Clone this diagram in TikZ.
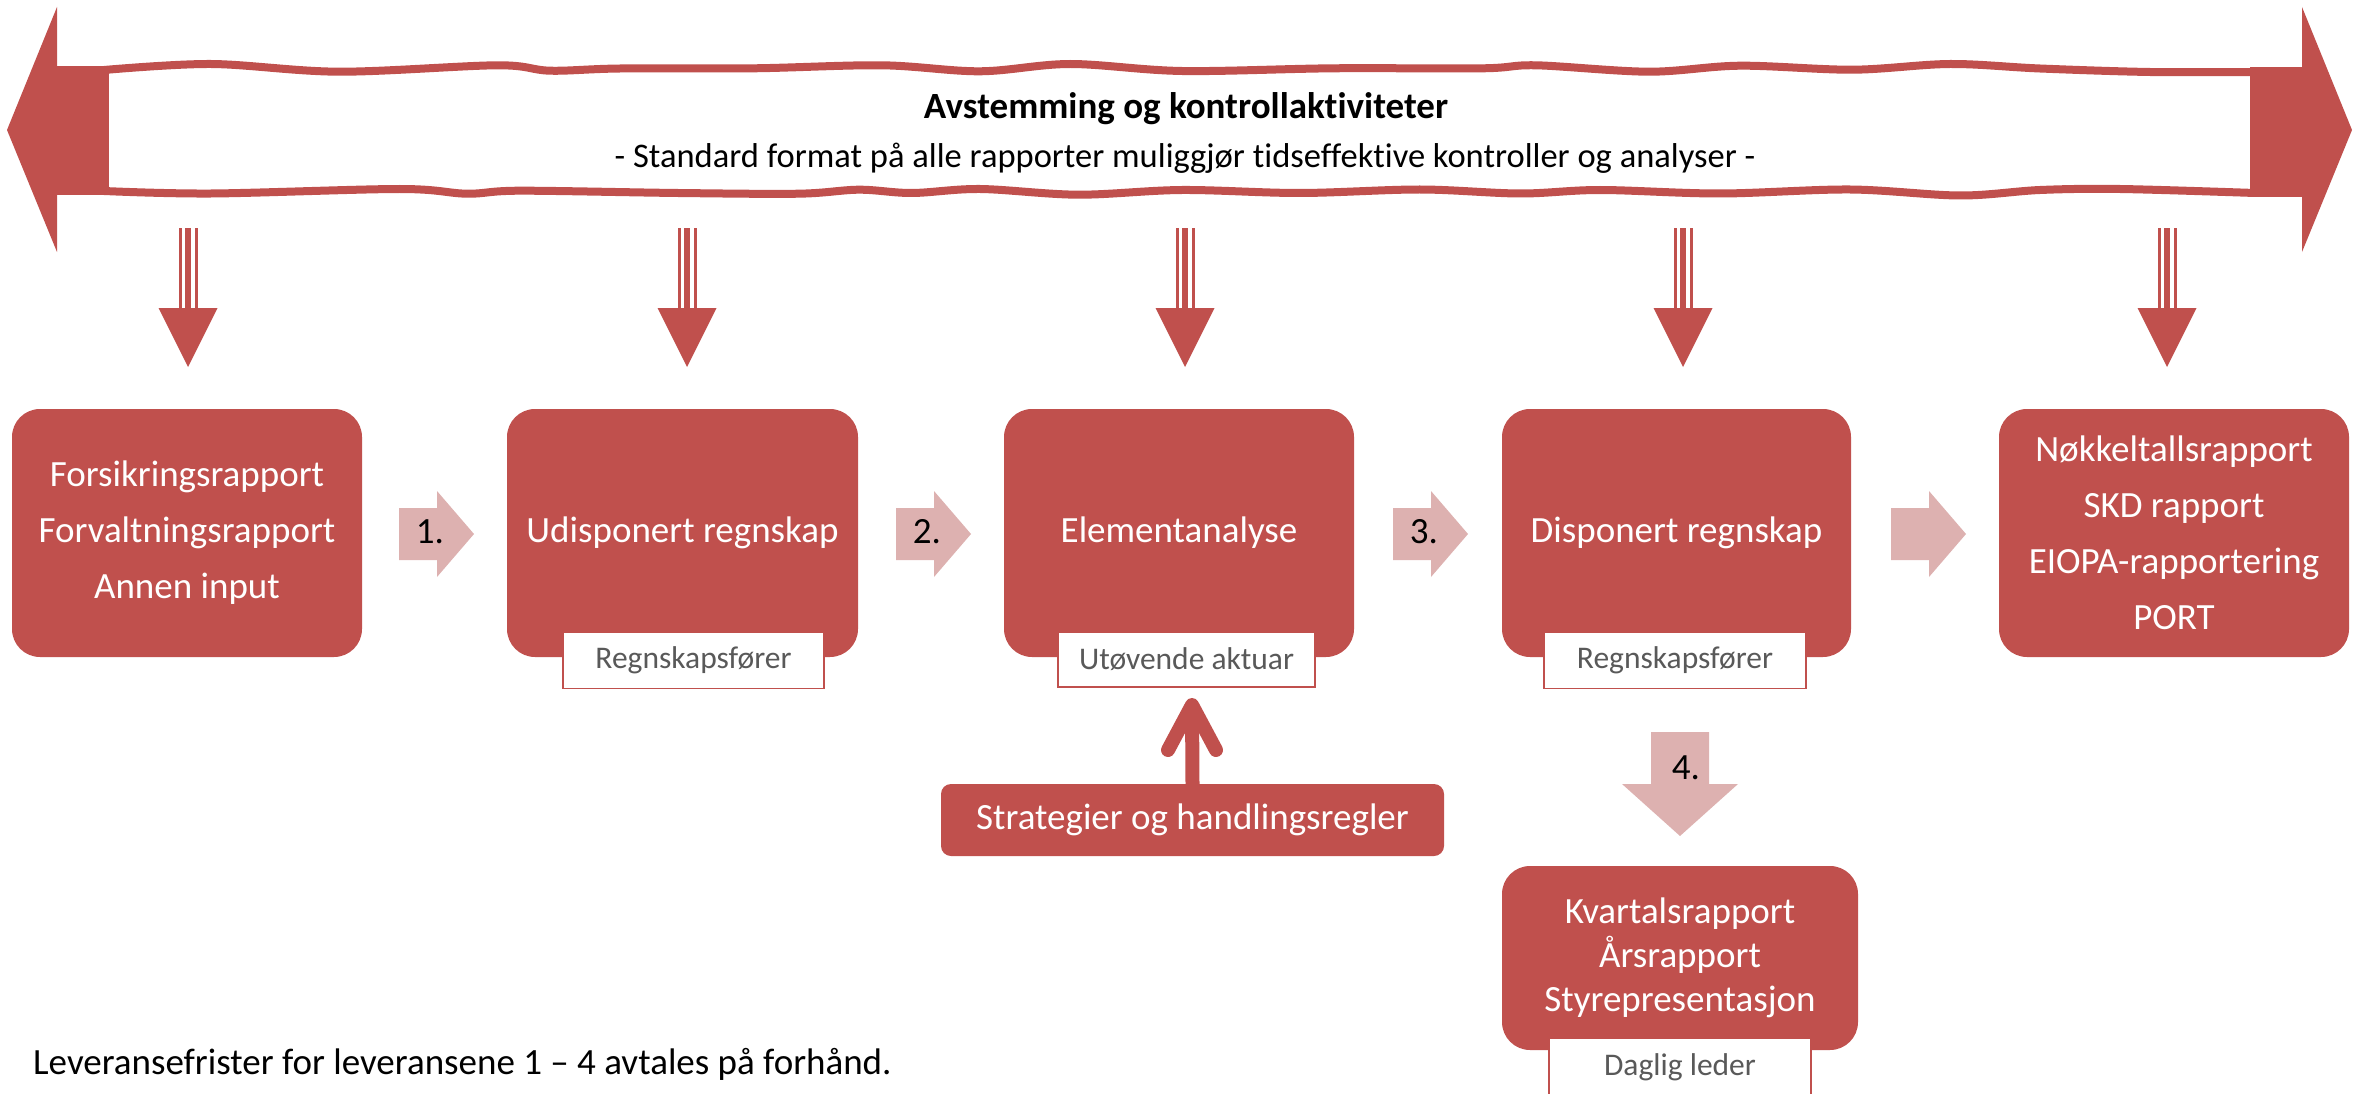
\documentclass[tikz,border=0pt]{standalone}
\usepackage{fontspec}
\setmainfont{Carlito}[Ligatures={TeX,NoCommon}]
\usetikzlibrary{calc}
\definecolor{redc}{HTML}{C0504D}
\definecolor{pinkc}{HTML}{DDB1B0}
\definecolor{graytxt}{HTML}{595959}
\begin{document}
\begin{tikzpicture}[x=1pt,y=-1pt,
  mainbox/.style={fill=redc, rounded corners=28pt, text=white, align=center,
    font=\fontsize{37}{56}\selectfont, inner sep=0pt},
  subbox/.style={draw=redc, line width=1.5pt, fill=white, text=graytxt,
    font=\fontsize{31.5}{37}\selectfont, inner sep=0pt, minimum height=56pt},
  numlbl/.style={font=\fontsize{37}{44}\selectfont, text=black, inner sep=0pt},
  band/.style={draw=redc, line width=8pt},
  stripedown/.pic={
    \fill[redc] (-9.5,0) rectangle (-6.5,80);
    \fill[redc] (-3,0) rectangle (3,80);
    \fill[redc] (6.5,0) rectangle (9.5,80);
    \fill[redc] (-29.5,80) -- (29.5,80) -- (0,139) -- cycle;},
  pinkright/.pic={
    \fill[pinkc] (0,-26) -- (38,-26) -- (38,-43) -- (75,0) -- (38,43) -- (38,26) -- (0,26) -- cycle;},
  pinkdown/.pic={
    \fill[pinkc] (-29,0) -- (29,0) -- (29,52) -- (58,52) -- (0,104) -- (-58,52) -- (-29,52) -- cycle;}
]
\useasboundingbox (0,0) rectangle (2364,1094);

% ---- banner double arrow ----
\fill[redc] (7,130) -- (57,7) -- (57,252) -- cycle;
\fill[redc] (2352,130) -- (2302,7) -- (2302,252) -- cycle;
\fill[redc] (56,66) rectangle (109,195);
\fill[redc] (2250,67) rectangle (2303,197);
\draw[band] plot[smooth, tension=0.55] coordinates {(104,70) (211,64) (339,71.7) (497,65.3) (550,70.7) (620,68.5) (754,68.3) (882,65.3) (980,71.3) (1070,64) (1182,71) (1333,68.3) (1483,68.3) (1536,65.3) (1649,71.7) (1740,65.7) (1853,69.7) (1950,64) (2040,68.5) (2150,72) (2255,72)};
\draw[band] plot[smooth, tension=0.55] coordinates {(104,191) (211,193.5) (400,189) (467,193.7) (520,190.7) (678,193) (799,193.7) (859,189.7) (912,193) (980,189) (1078,194.7) (1182,190) (1300,193) (1420,189.5) (1520,193.5) (1600,190) (1720,193.5) (1850,189.5) (1960,195.5) (2040,190) (2120,189) (2255,193)};
\node[font=\fontsize{37}{44}\selectfont\bfseries, inner sep=0pt] (title) at (1186,109) {Avstemming og kontrollaktiviteter};
\node[font=\fontsize{34.5}{40}\selectfont, inner sep=0pt] (subtitle) at (1185,158) {- Standard format på alle rapporter muliggjør tidseffektive kontroller og analyser -};

% ---- striped down arrows ----
\pic at (188,228) {stripedown};
\pic at (687,228) {stripedown};
\pic at (1185,228) {stripedown};
\pic at (1683,228) {stripedown};
\pic at (2167,228) {stripedown};

% ---- main boxes ----
\node[mainbox, minimum width=350pt, minimum height=248pt] (b1) at (187,533)
  {Forsikringsrapport\\Forvaltningsrapport\\Annen input};
\node[mainbox, minimum width=351pt, minimum height=248pt] (b2) at (682.5,533) {Udisponert regnskap};
\node[mainbox, minimum width=350pt, minimum height=248pt] (b3) at (1179,533) {Elementanalyse};
\node[mainbox, minimum width=349pt, minimum height=248pt] (b4) at (1676.5,533) {Disponert regnskap};
\node[mainbox, minimum width=350pt, minimum height=248pt] (b5) at (2174,533)
  {Nøkkeltallsrapport\\SKD rapport\\EIOPA-rapportering\\PORT};
\node[mainbox, font=\fontsize{37}{44}\selectfont, minimum width=356pt, minimum height=184pt] (b6) at (1680,958)
  {Kvartalsrapport\\Årsrapport\\Styrepresentasjon};

% ---- role sub-boxes ----
\node[subbox, minimum width=261pt] (r2) at (693.5,660.5) {Regnskapsfører};
\node[subbox, minimum width=257pt, minimum height=55pt] (r3) at (1186.5,659.5) {Utøvende aktuar};
\node[subbox, minimum width=262pt] (r4) at (1675,660.5) {Regnskapsfører};
\node[subbox, minimum width=262pt, minimum height=62pt, text depth=0pt] (r6) at (1680,1069) {};
\node[text=graytxt, font=\fontsize{31.5}{37}\selectfont, inner sep=0pt] (r6t) at (1680,1067) {Daglig leder};

% ---- pink flow arrows ----
\pic at (399,534) {pinkright};
\pic at (896,534) {pinkright};
\pic at (1393,534) {pinkright};
\pic at (1891,534) {pinkright};
\node[numlbl] (n1) at (430,532) {1.};
\node[numlbl] (n2) at (927,532) {2.};
\node[numlbl] (n3) at (1424,532) {3.};
\pic at (1680,732) {pinkdown};
\node[numlbl] (n4) at (1686,768) {4.};

% ---- strategier ----
\node[fill=redc, rounded corners=10pt, text=white, font=\fontsize{37}{44}\selectfont,
  minimum width=503pt, minimum height=72pt, inner sep=0pt] (strat) at (1192.5,820) {Strategier og handlingsregler};
\coordinate (uptip) at (1192,705);
\draw[redc, line width=14pt] (strat.north) -- (uptip);
\draw[redc, line width=14pt, line cap=round, line join=round]
  ($(uptip)+(-24,45)$) -- (uptip) -- ($(uptip)+(24,45)$);

% ---- note ----
\node[anchor=west, font=\fontsize{37}{44}\selectfont, inner sep=0pt] (note) at (33,1064)
  {Leveransefrister for leveransene 1 – 4 avtales på forhånd.};
\end{tikzpicture}
\end{document}
